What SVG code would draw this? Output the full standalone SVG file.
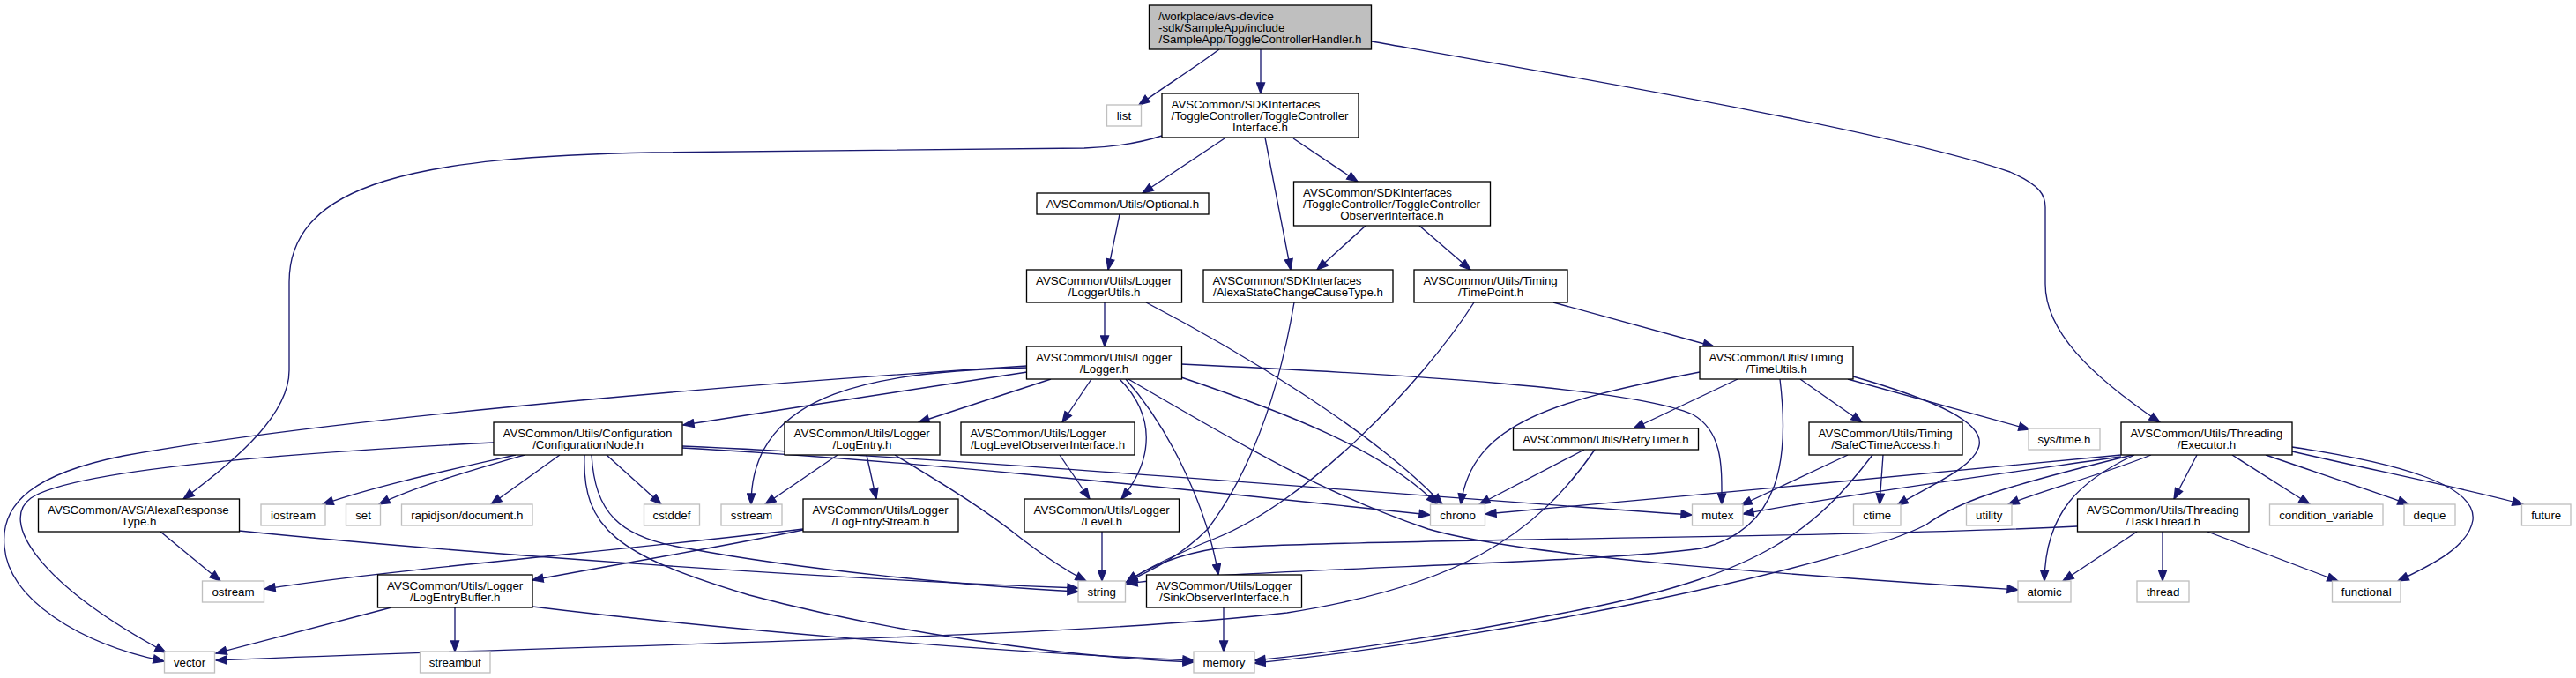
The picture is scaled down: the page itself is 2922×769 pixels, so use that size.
<svg xmlns="http://www.w3.org/2000/svg" width="2922" height="769" viewBox="0 0 2922 769">
<style>
rect.n{fill:#ffffff;stroke:#000000;stroke-width:1.33}
rect.g{fill:#ffffff;stroke:#bfbfbf;stroke-width:1.33}
rect.r{fill:#bfbfbf;stroke:#000000;stroke-width:1.33}
text{font-family:"Liberation Sans",Arial,Helvetica,sans-serif;font-size:13.3px;fill:#000000}
text.c{text-anchor:middle}
text.l{text-anchor:start}
#edges path{fill:none;stroke:#191970;stroke-width:1.33;marker-end:url(#ah)}
</style>
<defs>
<marker id="ah" markerUnits="userSpaceOnUse" markerWidth="14" markerHeight="11" refX="12" refY="4.5" orient="auto" viewBox="-1 -1 14 11">
<path d="M0,0 L12,4.5 L0,9 Z" fill="#191970" stroke="#191970" stroke-width="1.33"/>
</marker>
</defs>
<rect width="2922" height="769" fill="#ffffff"/>
<g id="edges">
<path d="M1383,56 C1355,77 1318,100 1292,119"/>
<path d="M1430,56 L1430,106"/>
<path d="M1556,47 C1800,90 2150,150 2280,195 C2315,210 2320,222 2320,235 L2320,322 C2320,375 2370,425 2450,479"/>
<path d="M1318,154 C1290,163 1260,167 1230,168 L740,173 C480,178 328,205 328,320 L328,420 C328,470 270,520 208,566"/>
<path d="M1389,157 L1296,219"/>
<path d="M1435,156 L1464,306"/>
<path d="M1467,157 L1540,206"/>
<path d="M1549,256 L1494,306"/>
<path d="M1610,256 L1668,306"/>
<path d="M1270,243 L1257,306"/>
<path d="M1253,343 L1253,393"/>
<path d="M1300,343 C1400,395 1560,490 1636,572"/>
<path d="M1468,343 C1455,420 1430,520 1370,600 C1340,630 1310,645 1278,660"/>
<path d="M1672,343 C1610,440 1480,570 1380,610 C1330,630 1300,645 1278,660"/>
<path d="M1762,343 L1944,393"/>
<path d="M1165,422 C1050,440 900,462 775,482"/>
<path d="M1192,430 L1042,479"/>
<path d="M1238,430 L1205,479"/>
<path d="M1270,430 C1310,470 1310,520 1272,566"/>
<path d="M1277,430 C1330,490 1370,580 1382,652"/>
<path d="M1165,417 C1000,422 852,440 852,572"/>
<path d="M1165,415 C900,432 400,470 140,517 C40,537 0,570 5,620 C10,680 90,730 186,750"/>
<path d="M1340,413 C1600,425 1850,440 1920,470 C1955,490 1953,530 1953,572"/>
<path d="M1340,428 C1450,465 1570,510 1630,572"/>
<path d="M1280,430 C1400,500 1500,560 1620,600 C1720,630 2000,650 2289,669"/>
<path d="M585,516 C510,533 430,550 366,572"/>
<path d="M595,516 C540,532 470,552 430,572"/>
<path d="M635,516 L557,572"/>
<path d="M688,516 L750,572"/>
<path d="M560,502 C300,515 80,535 35,565 C0,590 40,660 188,740"/>
<path d="M671,516 C675,580 700,610 780,622 C900,645 1100,665 1223,671"/>
<path d="M663,516 C660,600 700,630 850,675 C1000,715 1200,745 1354,751"/>
<path d="M774,508 C1000,520 1300,550 1622,584"/>
<path d="M774,506 C1100,520 1500,555 1919,584"/>
<path d="M950,516 L868,572"/>
<path d="M983,516 L994,566"/>
<path d="M1015,516 C1080,555 1120,580 1160,612 C1190,635 1215,650 1232,659"/>
<path d="M1202,516 L1236,566"/>
<path d="M1250,603 L1250,659"/>
<path d="M1388,689 L1388,739"/>
<path d="M911,601 C820,620 700,640 604,658"/>
<path d="M911,600 C700,625 450,645 300,668"/>
<path d="M182,603 L250,659"/>
<path d="M271,602 C500,625 900,655 1223,667"/>
<path d="M444,689 L245,741"/>
<path d="M516,689 L516,739"/>
<path d="M604,688 C800,712 1100,738 1354,749"/>
<path d="M1797,510 L1678,572"/>
<path d="M1809,510 C1740,610 1650,665 1460,695 C1200,725 700,730 245,749"/>
<path d="M1971,430 L1853,486"/>
<path d="M2042,430 L2112,479"/>
<path d="M1928,422 C1760,455 1670,480 1657,572"/>
<path d="M2019,430 C2030,520 2020,600 1930,622 C1800,640 1400,645 1278,662"/>
<path d="M2102,427 C2200,455 2250,480 2245,505 C2240,530 2190,550 2152,573"/>
<path d="M2096,430 L2302,487"/>
<path d="M2096,516 L1975,573"/>
<path d="M2136,516 L2132,572"/>
<path d="M2124,516 C2060,600 2000,650 1800,690 C1650,720 1500,742 1423,749"/>
<path d="M2406,516 C2200,535 1900,565 1685,583"/>
<path d="M2406,518 C2250,540 2100,560 1977,583"/>
<path d="M2419,516 C2260,555 2220,570 2185,595 C2100,640 1700,725 1423,752"/>
<path d="M2440,516 C2380,540 2320,555 2278,572"/>
<path d="M2421,516 C2360,545 2320,580 2319,659"/>
<path d="M2492,516 L2466,566"/>
<path d="M2532,516 L2620,572"/>
<path d="M2570,516 C2640,540 2700,560 2732,572"/>
<path d="M2600,512 C2700,535 2800,555 2862,572"/>
<path d="M2600,507 C2720,525 2810,550 2805,590 C2800,620 2760,640 2720,659"/>
<path d="M2424,603 L2340,659"/>
<path d="M2453,603 L2453,659"/>
<path d="M2504,603 L2652,659"/>
<path d="M2356,597 C2100,610 1500,612 1380,622 C1330,630 1300,645 1278,660"/>
</g>
<g id="n_top"><rect class="r" x="1303.5" y="6" width="252" height="50"/><text class="l" x="1314" y="23">/workplace/avs-device</text><text class="l" x="1314" y="36">-sdk/SampleApp/include</text><text class="c" x="1429.5" y="49">/SampleApp/ToggleControllerHandler.h</text></g>
<g id="n_list"><rect class="g" x="1255.5" y="119" width="39" height="24"/><text class="c" x="1275" y="136">list</text></g>
<g id="n_tci"><rect class="n" x="1318" y="106" width="223" height="50"/><text class="l" x="1328.5" y="123">AVSCommon/SDKInterfaces</text><text class="l" x="1328.5" y="136">/ToggleController/ToggleController</text><text class="c" x="1429.5" y="149">Interface.h</text></g>
<g id="n_optional"><rect class="n" x="1176" y="219" width="195" height="24"/><text class="c" x="1273.5" y="236">AVSCommon/Utils/Optional.h</text></g>
<g id="n_tcoi"><rect class="n" x="1467.5" y="206" width="223" height="50"/><text class="l" x="1478" y="223">AVSCommon/SDKInterfaces</text><text class="l" x="1478" y="236">/ToggleController/ToggleController</text><text class="c" x="1579" y="249">ObserverInterface.h</text></g>
<g id="n_loggerutils"><rect class="n" x="1164.5" y="306" width="176" height="37"/><text class="l" x="1175" y="323">AVSCommon/Utils/Logger</text><text class="c" x="1252.5" y="336">/LoggerUtils.h</text></g>
<g id="n_ascct"><rect class="n" x="1365" y="306" width="215" height="37"/><text class="l" x="1375.5" y="323">AVSCommon/SDKInterfaces</text><text class="c" x="1472.5" y="336">/AlexaStateChangeCauseType.h</text></g>
<g id="n_timepoint"><rect class="n" x="1604" y="306" width="174" height="37"/><text class="l" x="1614.5" y="323">AVSCommon/Utils/Timing</text><text class="c" x="1691" y="336">/TimePoint.h</text></g>
<g id="n_logger"><rect class="n" x="1164.5" y="393" width="176" height="37"/><text class="l" x="1175" y="410">AVSCommon/Utils/Logger</text><text class="c" x="1252.5" y="423">/Logger.h</text></g>
<g id="n_timeutils"><rect class="n" x="1928" y="393" width="174" height="37"/><text class="l" x="1938.5" y="410">AVSCommon/Utils/Timing</text><text class="c" x="2015" y="423">/TimeUtils.h</text></g>
<g id="n_confignode"><rect class="n" x="560" y="479" width="214" height="37"/><text class="l" x="570.5" y="496">AVSCommon/Utils/Configuration</text><text class="c" x="667" y="509">/ConfigurationNode.h</text></g>
<g id="n_logentry"><rect class="n" x="890" y="479" width="176" height="37"/><text class="l" x="900.5" y="496">AVSCommon/Utils/Logger</text><text class="c" x="978" y="509">/LogEntry.h</text></g>
<g id="n_loglevelobs"><rect class="n" x="1090" y="479" width="197" height="37"/><text class="l" x="1100.5" y="496">AVSCommon/Utils/Logger</text><text class="c" x="1188.5" y="509">/LogLevelObserverInterface.h</text></g>
<g id="n_retrytimer"><rect class="n" x="1716.5" y="486" width="210" height="24"/><text class="c" x="1821.5" y="503">AVSCommon/Utils/RetryTimer.h</text></g>
<g id="n_safectime"><rect class="n" x="2052" y="479" width="174" height="37"/><text class="l" x="2062.5" y="496">AVSCommon/Utils/Timing</text><text class="c" x="2139" y="509">/SafeCTimeAccess.h</text></g>
<g id="n_systime"><rect class="g" x="2301" y="486" width="81" height="24"/><text class="c" x="2341.5" y="503">sys/time.h</text></g>
<g id="n_executor"><rect class="n" x="2406" y="479" width="194" height="37"/><text class="l" x="2416.5" y="496">AVSCommon/Utils/Threading</text><text class="c" x="2503" y="509">/Executor.h</text></g>
<g id="n_alexaresp"><rect class="n" x="43.5" y="566" width="228" height="37"/><text class="l" x="54" y="583">AVSCommon/AVS/AlexaResponse</text><text class="c" x="157.5" y="596">Type.h</text></g>
<g id="n_iostream"><rect class="g" x="296" y="572" width="73" height="24"/><text class="c" x="332.5" y="589">iostream</text></g>
<g id="n_set"><rect class="g" x="392.5" y="572" width="39" height="24"/><text class="c" x="412" y="589">set</text></g>
<g id="n_rapidjson"><rect class="g" x="455.5" y="572" width="148.5" height="24"/><text class="c" x="529.75" y="589">rapidjson/document.h</text></g>
<g id="n_cstddef"><rect class="g" x="730.5" y="572" width="63" height="24"/><text class="c" x="762" y="589">cstddef</text></g>
<g id="n_sstream"><rect class="g" x="818" y="572" width="69" height="24"/><text class="c" x="852.5" y="589">sstream</text></g>
<g id="n_logentrystream"><rect class="n" x="911" y="566" width="176" height="37"/><text class="l" x="921.5" y="583">AVSCommon/Utils/Logger</text><text class="c" x="999" y="596">/LogEntryStream.h</text></g>
<g id="n_level"><rect class="n" x="1162" y="566" width="175.5" height="37"/><text class="l" x="1172.5" y="583">AVSCommon/Utils/Logger</text><text class="c" x="1249.75" y="596">/Level.h</text></g>
<g id="n_chrono"><rect class="g" x="1622.5" y="572" width="62" height="24"/><text class="c" x="1653.5" y="589">chrono</text></g>
<g id="n_mutex"><rect class="g" x="1919.5" y="572" width="57.5" height="24"/><text class="c" x="1948.25" y="589">mutex</text></g>
<g id="n_ctime"><rect class="g" x="2102.5" y="572" width="53.5" height="24"/><text class="c" x="2129.25" y="589">ctime</text></g>
<g id="n_utility"><rect class="g" x="2230.5" y="572" width="51.5" height="24"/><text class="c" x="2256.25" y="589">utility</text></g>
<g id="n_taskthread"><rect class="n" x="2356.5" y="566" width="194.5" height="37"/><text class="l" x="2367" y="583">AVSCommon/Utils/Threading</text><text class="c" x="2453.75" y="596">/TaskThread.h</text></g>
<g id="n_condvar"><rect class="g" x="2574.5" y="572" width="128.5" height="24"/><text class="c" x="2638.75" y="589">condition_variable</text></g>
<g id="n_deque"><rect class="g" x="2727" y="572" width="58" height="24"/><text class="c" x="2756" y="589">deque</text></g>
<g id="n_future"><rect class="g" x="2860.5" y="572" width="55.5" height="24"/><text class="c" x="2888.25" y="589">future</text></g>
<g id="n_ostream"><rect class="g" x="229.5" y="659" width="70" height="24"/><text class="c" x="264.5" y="676">ostream</text></g>
<g id="n_logentrybuffer"><rect class="n" x="428.5" y="652" width="175.5" height="37"/><text class="l" x="439" y="669">AVSCommon/Utils/Logger</text><text class="c" x="516.25" y="682">/LogEntryBuffer.h</text></g>
<g id="n_string"><rect class="g" x="1223" y="659" width="53.5" height="24"/><text class="c" x="1249.75" y="676">string</text></g>
<g id="n_sinkobs"><rect class="n" x="1300.5" y="652" width="176" height="37"/><text class="l" x="1311" y="669">AVSCommon/Utils/Logger</text><text class="c" x="1388.5" y="682">/SinkObserverInterface.h</text></g>
<g id="n_atomic"><rect class="g" x="2289" y="659" width="60" height="24"/><text class="c" x="2319" y="676">atomic</text></g>
<g id="n_thread"><rect class="g" x="2424" y="659" width="59" height="24"/><text class="c" x="2453.5" y="676">thread</text></g>
<g id="n_functional"><rect class="g" x="2645.5" y="659" width="77.5" height="24"/><text class="c" x="2684.25" y="676">functional</text></g>
<g id="n_vector"><rect class="g" x="186.5" y="739" width="57" height="24"/><text class="c" x="215" y="756">vector</text></g>
<g id="n_streambuf"><rect class="g" x="476.5" y="739" width="79.5" height="24"/><text class="c" x="516.25" y="756">streambuf</text></g>
<g id="n_memory"><rect class="g" x="1354" y="739" width="69" height="24"/><text class="c" x="1388.5" y="756">memory</text></g>
</svg>
